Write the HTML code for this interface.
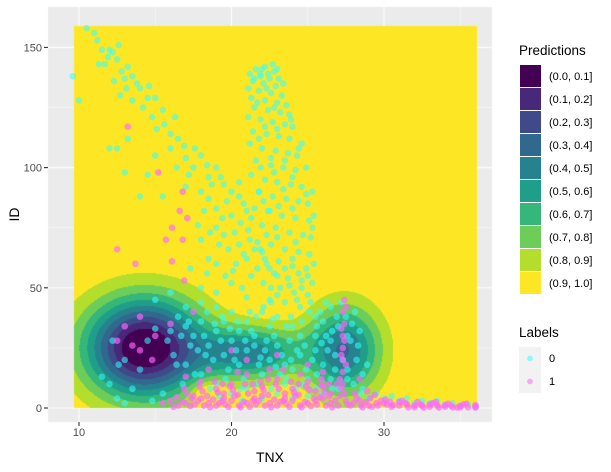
<!DOCTYPE html>
<html><head><meta charset="utf-8"><style>
body{margin:0;background:#fff;width:611px;height:472px;overflow:hidden;font-family:"Liberation Sans",sans-serif}
#wrap{position:relative;width:611px;height:472px}
canvas,svg{position:absolute;left:0;top:0}
</style></head><body>
<div id="wrap">
<canvas id="cv" width="611" height="472"></canvas>
<svg id="sv" width="611" height="472"></svg>
</div>
<script>
const xTicks=[10,20,30];
const yTicks=[0,50,100,150];
const predLabels=["(0.0, 0.1]","(0.1, 0.2]","(0.2, 0.3]","(0.3, 0.4]","(0.4, 0.5]","(0.5, 0.6]","(0.6, 0.7]","(0.7, 0.8]","(0.8, 0.9]","(0.9, 1.0]"];
const viridis=["#440154","#482878","#3E4A89","#31688E","#26828E","#1F9E89","#35B779","#6DCD59","#B4DE2C","#FDE725"];
const gridX=[9.67,36.1];
const gridY=[0,158.9];
// bumps: [cx, cy, sx, sy, amp]
const bumpLeft=[14.3,25,2.7,14.4,1.05];
const bumpRight=[27.4,24,1.7,13,0.6];
const bumpMid=[21.3,23,2.3,7.5,0.55];
const bumpHole=[18.5,6,0.8,3.5,-0.2];
const cyanPts=[[10.5,158],[11,156],[9.6,138],[10,128],[11.5,149],[12,149],[12.2,148],[11.3,143],[11.7,143],[12.5,145],[12.8,140],[13,137],[12.3,136],[13.5,138],[12.7,130],[14,133],[14.5,129],[13.5,128],[14.2,125],[15,129],[15.5,124],[13.2,112],[12,108],[12.5,108],[13,98],[14.5,97],[15,105],[16,114],[16.5,112],[17,104],[16,108],[18,105],[17.5,100],[18.5,96],[19,100],[17,92],[18,90],[18.5,87],[19.5,93],[20,90],[20.5,88],[19,83],[20,80],[21,82],[15.5,88],[17.8,76],[19,75],[19.5,72],[20.2,73],[21.2,70],[20.5,68],[18,70],[19.8,66],[21,62],[22,65],[20.3,60],[21.7,58],[22.3,60],[23,55],[19,60],[18.5,62],[14,88],[20.5,94],[22.5,82],[21.8,90],
[22.7,143],[22.2,142],[21.6,141],[21.2,139],[22.8,140],[21.9,138],[22.5,137],[23.1,137],[21.4,136],[22.1,135],[22.9,134],[21.1,133],[21.8,132],[22.6,131],[23.3,130],[21.3,129],[22.2,128],[23.0,127],[23.6,126],[21.5,125],[22.4,124],[23.2,123],[23.8,122],[21.1,121],[21.9,120],[22.7,119],[23.5,118],[24.0,117],[21.4,115],[22.3,114],[23.1,113],[23.8,112],[21.2,110],[22.0,108],[22.9,107],[23.7,106],[24.3,105],[21.6,103],[22.6,101],[23.4,100],[24.2,99],[21.3,97],[22.2,95],[23.0,94],[23.9,93],[24.6,92],[21.8,90],[22.7,88],[23.6,87],[24.4,86],[25.0,85],[21.5,83],[22.4,82],[23.3,80],[24.2,79],[25.1,78],[22.0,76],[22.9,75],[23.8,73],[24.7,72],[25.2,71],[21.7,69],[22.6,68],[23.5,66],[24.4,65],[25.1,64],[22.2,62],[23.1,61],[24.0,59],[24.9,58],[22.8,56],[23.7,54],[24.6,53],[25.3,52],[23.2,50],[24.1,48],[25.0,47],[22.5,45],[23.5,44],[24.5,42],[21.9,139],[22.4,139],[23.4,135],[24.6,110],[24.9,100],[25.3,90],[25.4,80],[25.4,60],
[16.5,38],[17,34],[17.5,30],[18,36],[18.5,26],[19,32],[19.5,22],[20,28],[20.5,18],[21,24],[21.5,30],[22,14],[22.5,20],[23,26],[23.5,10],[24,16],[24.5,22],[25,12],[25.5,8],[26,18],[26.5,28],[27,34],[27.5,38],[26,36],[25.5,30],[24,34],[23,38],[22,40],[21,36],[20,40],[19,42],[18,44],[17,42],[16,32],[15.8,28],[16.2,22],[17,18],[18,14],[19,10],[20,6],[21,8],[22,4],[23,6],[24,4],[25,5],[26,6],[27,8],[28,10],[28.5,6],[29,4],[30,4],[31,3],[32,2],[33,2],[34,1.5],[35,1],[36,0.5],[26.5,42],[27.2,44],[25.8,40],[26.8,22],[27.6,16],[28.2,20],[21.8,18],[20.8,12],[19.8,16],[18.8,20],[17.8,24],[22.8,30],[23.8,28],[24.8,26],[19.2,5],[20.7,3],[16.8,10],[15.5,6],[14.8,3],[13,2],[12.5,4],[13.5,8],[12,10],[11.5,13],[15,45],[16,48],[18,50],[19,48],[20,52],[21,46],[13,20],[12.6,18],[14,16],[14.5,28],[15,33],[12.2,28],[20.5,32],[21.5,26],[22.5,34],[23.5,18],[24.5,30],[25.5,24],[26.5,12],[27.8,28],[28.4,32],[26.2,30],[19.5,36],[18.2,30],[20.2,20],[22.2,24],[23.2,14],[24.2,8],[21.2,40],[22.6,44],[26.9,38],[25.2,44]];
const cyanPts2=[[11.2,153],[12.6,151],[11.9,146],[13.2,142],[13.8,135],[14.6,134],[13.1,133],[14.8,121],[15.6,118],[16.3,121],[15.1,116],[16.9,109],[17.6,108],[18.4,101],[16.4,100],[17.2,97],[19.3,96],[18.7,93],[19.7,86],[20.8,85],[18.2,82],[19.4,79],[20.6,77],[21.1,74],[18.6,73],[19.2,68],[20.8,64],[21.5,66],[20.1,57],[21.3,55],[22.1,52],[19.6,55],[18.4,56],[17.3,58],[20.7,50],
[22.0,141],[23.0,141],[21.5,137],[22.3,133],[21.7,127],[22.8,125],[23.9,120],[22.2,117],[23.0,116],[21.8,112],[24.4,108],[22.6,104],[23.5,103],[21.9,100],[22.8,98],[24.0,96],[23.4,91],[24.9,89],[22.1,86],[23.1,84],[24.0,83],[25.3,75],[21.3,79],[23.0,71],[24.2,69],[22.3,72],[21.9,66],[24.0,62],[23.5,58],[22.5,58],[24.4,56],[25.0,55],[23.8,51],[22.6,50],[24.6,50],[23.0,47],[24.3,45],[22.1,42],[25.1,40],[23.9,38],
[17.2,36],[18.4,40],[19.4,38],[20.4,36],[21.6,38],[22.7,37],[23.6,34],[24.6,36],[25.6,34],[26.6,32],[27.6,30],[28.3,26],[28.6,14],[28.9,18],[27.3,20],[26.3,24],[25.3,20],[24.3,24],[23.3,22],[22.3,28],[21.3,32],[20.3,24],[19.3,28],[18.3,22],[17.3,26],[16.7,30],[16.4,18],[17.6,14],[18.6,8],[19.6,12],[20.6,8],[21.6,10],[22.6,8],[23.6,12],[24.6,10],[25.6,14],[26.6,8],[27.6,12],[28.6,8],[29.5,6],[30.5,5],[31.5,4],[32.5,3],[33.5,3],[34.5,2],[35.5,1.5],[21.9,21],[22.9,17],[23.9,20],[24.9,16],[20.9,28],[19.9,33],[18.9,35],[25.9,27],[26.8,16],[27.9,35],[28.1,40],[26.2,44],[25.5,38]];
const magentaPts=[[13.2,117],[15.2,98],[16.8,90],[16.6,82],[17.1,79],[16.1,75],[12.5,66],[13.7,60],[15.7,70],[16.1,61],[16.8,70],[16.9,53],
[16,3],[17,2],[18,4],[19,1],[20,3],[21,2],[22,5],[23,1],[24,3],[25,2],[26,4],[27,1],[28,2],[29,1],[30,2],[31,1],[32,1],[33,0.5],[34,0.5],[35,0.3],[36,0.2],[16.5,1],[17.5,5],[18.5,2],[19.5,4],[20.5,1],[21.5,4],[22.5,2],[23.5,4],[24.5,1],[25.5,3],[26.5,2],[27.5,3],[28.5,1],[29.5,2],[30.5,0.5],[31.5,1.5],[32.5,1],[33.5,1],[34.5,0.3],[35.5,0.3],
[16.2,0.5],[16.8,2.5],[17.3,0.8],[17.8,3],[18.2,1],[18.8,3.5],[19.2,2],[19.8,0.5],[20.2,5],[20.8,2.5],[21.2,0.5],[21.8,3],[22.2,1],[22.8,3.5],[23.2,2.5],[23.8,0.5],[24.2,5],[24.8,2.5],[25.2,0.8],[25.8,4.5],[26.2,1],[26.8,3],[27.8,1],[28.2,4],[28.8,2.5],[29.2,0.5],[29.8,3],[30.2,1.5],[31,2.5],[32,0.3],[33,1.5],[34,1.2],[35,0.8],[36,0.6],
[27.3,10],[27.3,15],[27.3,20],[27.3,25],[27.3,30],[27.4,35],[27.3,40],[27.4,45],[27.2,8],[27.1,12],[20,10],[21,14],[22,9],[23,12],[24,8],[25,11],[26,9],[19,8],[18,11],[22.5,16],[24.5,14],[26,15],[21,20],[23,22],[25,18],[20,24],[18.5,16],[17,13],[14,24],[15,30],[13.5,26],[14.8,20],[16,35],[17.5,40],[13,34],[14,38],[12.5,28],[19.5,6],[21.5,7],[23.5,6],[25.5,7],[26.5,6]];
const magentaPts2=[[15.5,2],[16.4,4.5],[17.1,6],[18.1,7],[19.1,6.5],[20.1,7.5],[21.1,6],[22.1,7.5],[23.1,8],[24.1,6.5],[25.1,7.5],[26.1,6.5],[27.1,5],[28.1,6],[29.1,4],[30.1,3.5],[31.2,3],[32.2,2.5],[33.2,2],[34.2,1.8],[35.2,1.5],[36,1.2],[17.6,1.5],[18.6,0.3],[19.6,1.5],[20.6,0.3],[21.6,1.5],[22.6,0.3],[23.6,1.8],[24.6,0.3],[25.6,1.5],[26.6,0.3],[27.6,1.5],[28.6,0.3],[29.6,1],[30.6,1.2],[31.6,0.3],[32.6,0.2],[33.6,0.2],[34.8,0.2],[27.5,18],[27.4,28],[27.2,33],[27.5,42],[27.2,22],[26.4,10],[28.4,12],[24.4,10],[22.4,12],[20.4,15],[19.4,10],[23.4,16],[21.4,10],[25.9,12],
[16.9,8],[17.9,9],[18.9,11],[19.9,9],[20.9,10],[21.9,11],[22.9,10],[23.9,11],[24.9,9],[25.9,9.5],[26.9,10],[28.9,7],[17.4,4],[18.4,5],[19.4,3],[20.4,5.5],[21.4,3],[22.4,5.5],[23.4,3],[24.4,5.5],[25.4,4],[26.4,5],[27.4,6],[28.4,3],[29.4,5.5],[30.4,2.5],[31.4,2],[32.4,1.5],[33.4,2.5],[34.4,1],[35.4,1.8]];

const PL=48,PT=7,PR=492,PB=422;
const sx=v=>79+(v-10)*15.25;
const sy=v=>408-v*2.404;
const ix=px=>(px-79)/15.25+10;
const iy=py=>(408-py)/2.404;
const G=(x,y,b)=>b[4]*Math.exp(-0.5*(((x-b[0])/b[2])**2+((y-b[1])/b[3])**2));

const cv=document.getElementById('cv'),ctx=cv.getContext('2d');
ctx.fillStyle='#EBEBEB';ctx.fillRect(PL,PT,PR-PL,PB-PT);
ctx.strokeStyle='#fff';
[15,25,35].forEach(t=>{ctx.lineWidth=0.55;ctx.beginPath();ctx.moveTo(sx(t),PT);ctx.lineTo(sx(t),PB);ctx.stroke();});
[25,75,125].forEach(t=>{ctx.lineWidth=0.55;ctx.beginPath();ctx.moveTo(PL,sy(t));ctx.lineTo(PR,sy(t));ctx.stroke();});
xTicks.forEach(t=>{ctx.lineWidth=1.1;ctx.beginPath();ctx.moveTo(sx(t),PT);ctx.lineTo(sx(t),PB);ctx.stroke();});
yTicks.forEach(t=>{ctx.lineWidth=1.1;ctx.beginPath();ctx.moveTo(PL,sy(t));ctx.lineTo(PR,sy(t));ctx.stroke();});
const x0=Math.round(sx(gridX[0])),x1=Math.round(sx(gridX[1])),y0=Math.round(sy(gridY[1])),y1=Math.round(sy(gridY[0]));
for(let py=y0;py<y1;py++){for(let px=x0;px<x1;px++){
  const x=ix(px+0.5),y=iy(py+0.5);
  const f=G(x,y,bumpLeft)+G(x,y,bumpRight)+G(x,y,bumpMid)+G(x,y,bumpHole);
  let p=Math.min(1,Math.max(0,1-f));const k=Math.min(9,Math.floor(p*10));
  ctx.fillStyle=viridis[k];ctx.fillRect(px,py,1,1);}}

const NS='http://www.w3.org/2000/svg',sv=document.getElementById('sv');
function mk(tag,attrs,parent){const e=document.createElementNS(NS,tag);for(const k in attrs)e.setAttribute(k,attrs[k]);(parent||sv).appendChild(e);return e;}
const gp=mk('g',{});


cyanPts.concat(cyanPts2).forEach(p=>{const c=mk('circle',{cx:sx(p[0]),cy:sy(p[1]),r:3.3,fill:'#33FFFF','fill-opacity':0.55},gp);

});
magentaPts.concat(magentaPts2).forEach(p=>{const c=mk('circle',{cx:sx(p[0]),cy:sy(p[1]),r:3.3,fill:'#FF66FF','fill-opacity':0.65},gp);

});
xTicks.forEach(t=>{mk('line',{x1:sx(t),x2:sx(t),y1:PB,y2:PB+4,stroke:'#333','stroke-width':1.1});
const e=mk('text',{x:sx(t),y:PB+14,'text-anchor':'middle','font-size':11,fill:'#4D4D4D'});e.textContent=t;

});
yTicks.forEach(t=>{mk('line',{x1:PL-4,x2:PL,y1:sy(t),y2:sy(t),stroke:'#333','stroke-width':1.1});
const e=mk('text',{x:PL-6,y:sy(t)+4,'text-anchor':'end','font-size':11,fill:'#4D4D4D'});e.textContent=t;

});
let e=mk('text',{x:(PL+PR)/2,y:462,'text-anchor':'middle','font-size':14,fill:'#000'});e.textContent='TNX';


e=mk('text',{x:19,y:(PT+PB)/2,'text-anchor':'middle','font-size':14,fill:'#000',transform:`rotate(-90 19 ${(PT+PB)/2})`});e.textContent='ID';


e=mk('text',{x:519,y:55,'font-size':13.5,fill:'#000'});e.textContent='Predictions';


predLabels.forEach((l,i)=>{const y=65+i*23;
const r=mk('rect',{x:520,y:y,width:21,height:22,fill:viridis[i]});


const t=mk('text',{x:549,y:y+15,'font-size':11,fill:'#000'});t.textContent=l;

});
e=mk('text',{x:519,y:337,'font-size':13.5,fill:'#000'});e.textContent='Labels';


[['0','#33FFFF'],['1','#FF66FF']].forEach((d,i)=>{const y=347+i*23;
mk('rect',{x:519,y:y,width:22,height:23,fill:'#F2F2F2'});
const c=mk('circle',{cx:530,cy:y+11.5,r:2.9,fill:d[1],'fill-opacity':0.55});


const t=mk('text',{x:549,y:y+15,'font-size':11,fill:'#000'});t.textContent=d[0];

});
</script>
</body></html>
